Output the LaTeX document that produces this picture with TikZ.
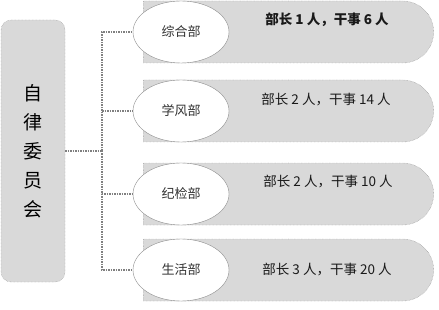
\documentclass[tikz,border=0pt]{standalone}
\usepackage{fontspec}
\newfontfamily\cjk{Noto Sans CJK SC}
\usepackage{tikz}
\usetikzlibrary{shapes.geometric,shapes.misc,positioning}

\begin{document}
\begin{tikzpicture}[
  x=1pt, y=-1pt,
  headbox/.style={rectangle, rounded corners=10pt, draw=black!45, densely dotted,
                  fill=black!15, minimum width=64pt, minimum height=262pt,
                  align=center, font=\cjk\fontsize{19}{29}\selectfont},
  pill/.style={rounded rectangle, rounded rectangle left arc=none, draw=black!50,
               densely dotted, fill=black!15, minimum width=297pt, minimum height=62pt},
  dept/.style={ellipse, draw=black!45, fill=white, minimum width=96pt,
               minimum height=62pt, inner sep=0pt, font=\cjk\fontsize{13}{15}\selectfont,
               text=black!80},
  staff/.style={font=\cjk\fontsize{13.5}{15}\selectfont, text=black!90},
  link/.style={draw=black!50, densely dotted, line width=1.5pt},
]
\useasboundingbox (0,0) rectangle (439,310);

%% Left: committee
\node[headbox] (zlw) at (33,151) {自\\律\\委\\员\\会};

%% Right: departments
\node[pill] (p1) at (288.5,32)  {};
\node[pill] (p2) at (288.5,111) {};
\node[pill] (p3) at (288.5,194) {};
\node[pill] (p4) at (288.5,270) {};

\node[dept] (zhb) at (181,32)  {综合部};
\node[dept] (xfb) at (181,111) {学风部};
\node[dept] (jjb) at (181,194) {纪检部};
\node[dept] (shb) at (181,270) {生活部};

\node[staff, font=\cjk\bfseries\fontsize{13.5}{15}\selectfont] (t1) at (327,20) {部长 1 人，干事 6 人};
\node[staff] (t2) at (326,100) {部长 2 人，干事 14 人};
\node[staff] (t3) at (328,182) {部长 2 人，干事 10 人};
\node[staff] (t4) at (327,270) {部长 3 人，干事 20 人};

%% Connectors
\coordinate (bus) at (102,151);
\draw[link] (zlw.east) -- (bus);
\draw[link] (bus) |- (zhb.west);
\draw[link] (bus) |- (xfb.west);
\draw[link] (bus) |- (jjb.west);
\draw[link] (bus) |- (shb.west);
\end{tikzpicture}
\end{document}
